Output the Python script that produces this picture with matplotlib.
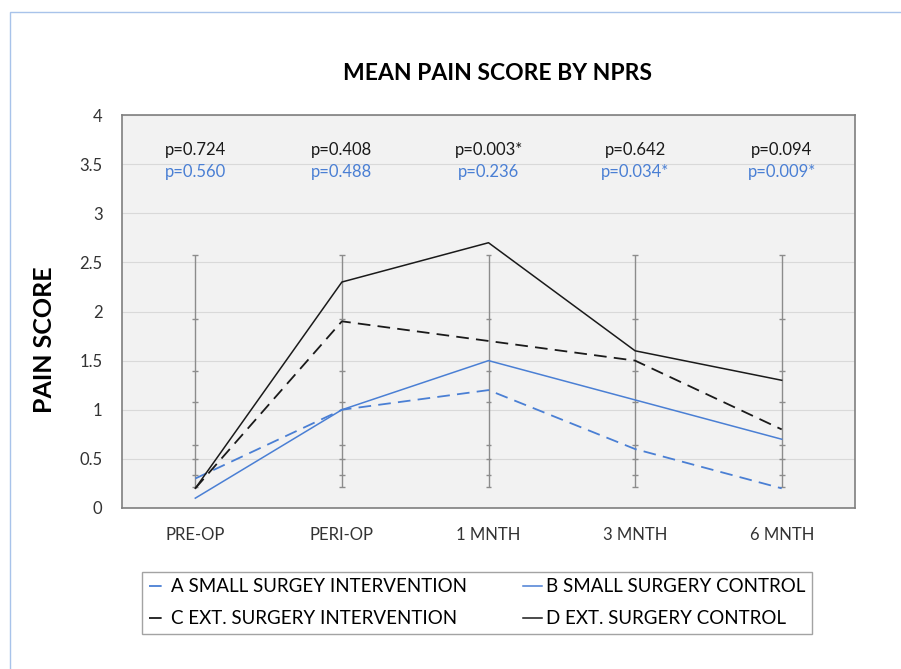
import numpy as np
import matplotlib.pyplot as plt
from matplotlib.patches import Rectangle

plt.rcParams['font.family'] = ['Lato', 'DejaVu Sans']

# Data
categories = ['PRE-OP', 'PERI-OP', '1 MNTH', '3 MNTH', '6 MNTH']
a_small_interv = [0.3, 1.0, 1.2, 0.6, 0.2]
b_small_control = [0.1, 1.0, 1.5, 1.1, 0.7]
c_ext_interv = [0.2, 1.9, 1.7, 1.5, 0.8]
d_ext_control = [0.2, 2.3, 2.7, 1.6, 1.3]

# error bar cap levels (same at every time point)
err_caps = [2.58, 1.92, 1.39, 1.08, 0.64, 0.50, 0.34, 0.21]

p_black = ['p=0.724', 'p=0.408', 'p=0.003*', 'p=0.642', 'p=0.094']
p_blue = ['p=0.560', 'p=0.488', 'p=0.236', 'p=0.034*', 'p=0.009*']

blue = '#4a7fd4'
black = '#1a1a1a'

fig = plt.figure(figsize=(9.01, 6.69), dpi=100)
ax = fig.add_axes([122 / 901, 1 - 508 / 669, 733 / 901, 393 / 669])

# light blue frame around the figure
fig.patches.append(Rectangle((10 / 901, -0.1), 1.2, 1 - 12 / 669 + 0.1,
                             transform=fig.transFigure, fill=False,
                             edgecolor='#a8c3ea', linewidth=1.0))

x = np.arange(len(categories))

ax.set_facecolor('#f2f2f2')
ax.set_axisbelow(True)
ax.grid(axis='y', color='#d9d9d9', linewidth=0.8)

# error bars
ax.vlines(x, min(err_caps), max(err_caps), color='#8c8c8c', linewidth=1.0, zorder=2)
for lvl in err_caps:
    ax.hlines([lvl] * len(x), x - 0.02, x + 0.02, color='#8c8c8c', linewidth=1.0, zorder=2)

dash = (0, (7, 4))
la, = ax.plot(x, a_small_interv, color=blue, linestyle=dash, linewidth=1.3, label='A SMALL SURGEY INTERVENTION', zorder=3)
lb, = ax.plot(x, b_small_control, color=blue, linewidth=1.1, label='B SMALL SURGERY CONTROL', zorder=3)
lc, = ax.plot(x, c_ext_interv, color=black, linestyle=dash, linewidth=1.3, label='C EXT. SURGERY INTERVENTION', zorder=3)
ld, = ax.plot(x, d_ext_control, color=black, linewidth=1.1, label='D EXT. SURGERY CONTROL', zorder=3)

for i in x:
    ax.text(i, 3.64, p_black[i], color=black, fontsize=12, ha='center', va='center')
    ax.text(i, 3.42, p_blue[i], color=blue, fontsize=12, ha='center', va='center')

ax.set_xlim(-0.5, 4.5)
ax.set_ylim(0, 4)
ax.set_yticks(np.arange(0, 4.01, 0.5))
ax.set_yticklabels(['0', '0.5', '1', '1.5', '2', '2.5', '3', '3.5', '4'])
ax.set_xticks(x)
ax.set_xticklabels(categories)
ax.tick_params(axis='both', length=0, labelsize=12, colors='#333333')
ax.tick_params(axis='y', pad=14)
ax.tick_params(axis='x', pad=14)
for s in ax.spines.values():
    s.set_color('#7f7f7f')
    s.set_linewidth(1.2)

fig.text(497 / 901, 1 - 73 / 669, 'MEAN PAIN SCORE BY NPRS', fontsize=16.5,
         fontweight='bold', ha='center', va='center')
fig.text(45 / 901, 1 - 340 / 669, 'PAIN SCORE', fontsize=18, fontweight='bold',
         rotation=90, ha='center', va='center')

# row-major order like the original: A B / C D
leg = fig.legend([la, lc, lb, ld], [la.get_label(), lc.get_label(), lb.get_label(), ld.get_label()],
                 loc='center', bbox_to_anchor=(477 / 901, 1 - 603 / 669), ncol=2,
                 fontsize=13.5, frameon=True, fancybox=False, edgecolor='#8c8c8c',
                 handlelength=1.0, handletextpad=0.2, columnspacing=3.0,
                 borderpad=0.35, labelspacing=0.8)
leg.get_frame().set_linewidth(1.0)

fig.savefig('out.png', dpi=100)
